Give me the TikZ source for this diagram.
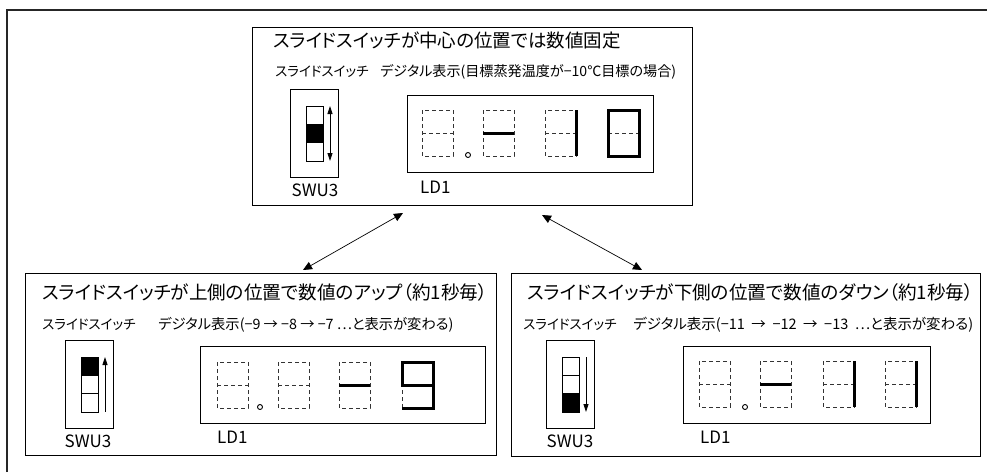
\documentclass[tikz,border=0pt]{standalone}
\usepackage{fontspec}
\setmainfont{Noto Sans CJK JP}[RawFeature=+palt]
\usetikzlibrary{arrows.meta}

\newcommand{\segdigit}[2]{%
  \begin{scope}[shift={#1}]
    \coordinate (tl) at (0,0);  \coordinate (tr) at (31,0);
    \coordinate (ml) at (0,23); \coordinate (mr) at (31,23);
    \coordinate (bl) at (0,46); \coordinate (br) at (31,46);
    \draw[segoff] (tl) rectangle (br) (ml) -- (mr);
    \if\relax\detokenize{#2}\relax\else\draw[segon] #2;\fi
  \end{scope}}

\newcommand{\slideswitch}[3]{%
  \begin{scope}[shift={#1}]
    \draw[swline] (0,0) rectangle (48,88);
    \fill (16,{17+55/3*#2}) rectangle (33,{17+55/3*(#2+1)});
    \draw[swline] (16,17) rectangle (33,72)
      (16,{17+55/3}) -- (33,{17+55/3}) (16,{17+110/3}) -- (33,{17+110/3});
    \draw[#3] (40,17) -- (40,72);
  \end{scope}}

\newcommand{\gap}{\hspace{0.45em}}

\begin{document}
\begin{tikzpicture}[x=1pt, y=-1pt,
    frame/.style={line width=2pt, black!85},
    panel/.style={draw, line width=1pt, inner sep=0pt},
    ttl/.style={anchor=west, inner sep=0pt, font=\fontsize{18.6}{20}\selectfont},
    sub/.style={anchor=west, inner sep=0pt, font=\fontsize{13.5}{15}\selectfont},
    tag/.style={anchor=west, inner sep=0pt, font=\fontsize{17}{19}\selectfont},
    swline/.style={line width=0.9pt},
    segoff/.style={line width=0.6pt, black!80, dash pattern=on 4pt off 3pt},
    segon/.style={line width=3pt},
    swboth/.style={line width=0.8pt, {Triangle[length=8pt,width=5pt]}-{Triangle[length=8pt,width=5pt]}},
    swup/.style={line width=0.8pt, {Triangle[length=8pt,width=5pt]}-},
    swdown/.style={line width=0.8pt, -{Triangle[length=8pt,width=5pt]}},
    arr/.style={line width=0.7pt, {Triangle[length=9pt,width=8pt]}-{Triangle[length=9pt,width=8pt]}},
]
\useasboundingbox (0,0) rectangle (987,472);
\draw[frame] (7,472) -- (7,10) -- (987,10);

\node[panel, minimum width=440pt, minimum height=178pt] (pmid) at (472,116) {};
\node[panel, minimum width=471pt, minimum height=182pt] (pup) at (260.5,364) {};
\node[panel, minimum width=469pt, minimum height=183pt] (pdown) at (745.5,364.5) {};

\coordinate (ml) at (403,213);
\coordinate (ul) at (303,270);
\coordinate (mr) at (542,215);
\coordinate (dr) at (642,270);
\draw[arr] (ul) -- (ml);
\draw[arr] (mr) -- (dr);

\node[ttl, font=\fontsize{18.5}{20}\selectfont] (tmid) at (273,40) {スライドスイッチが中心の位置では数値固定};
\node[sub] (smid) at (275,72) {スライドスイッチ};
\node[sub, font=\fontsize{14.1}{15}\selectfont] (dmid) at (380,72) {デジタル表示(目標蒸発温度が−10℃目標の場合)};
\slideswitch{(290,89)}{1}{swboth}
\node[tag, anchor=center] (wmid) at (315,190) {SWU3};
\draw[swline] (407,95) rectangle (653,172);
\node[tag] (lmid) at (420,187) {LD1};
\segdigit{(422,110)}{}
\draw[swline] (468,155) circle (2.5pt);
\segdigit{(483,110)}{(ml) -- (mr)}
\segdigit{(545,110)}{(tr) -- (br)}
\segdigit{(608,110)}{(tl) -- (tr) -- (br) -- (bl) -- cycle}

\node[ttl] (tup) at (42,292) {スライドスイッチが上側の位置で数値のアップ（約1秒毎）};
\node[sub] (sup1) at (42,325) {スライドスイッチ};
\node[sub, font=\fontsize{14.3}{15}\selectfont] (dup) at (158,325) {デジタル表示(−9 → −8 → −7 …と表示が変わる)};
\slideswitch{(65,340)}{0}{swup}
\node[tag, anchor=center] (wup) at (88,441) {SWU3};
\draw[swline] (200,346) rectangle (485,423);
\node[tag] (lup) at (217,437) {LD1};
\segdigit{(217,362)}{}
\draw[swline] (260,407) circle (2.5pt);
\segdigit{(278,362)}{}
\segdigit{(339,362)}{(ml) -- (mr)}
\segdigit{(402,362)}{(bl) -- (br) -- (tr) -- (tl) -- (ml) -- (mr)}

\node[ttl] (tdown) at (527,292) {スライドスイッチが下側の位置で数値のダウン（約1秒毎）};
\node[sub] (sdown) at (523,325) {スライドスイッチ};
\node[sub, font=\fontsize{14.5}{15}\selectfont] (ddown) at (633,325) {デジタル表示(−11\gap→\gap−12\gap→\gap−13\gap…と表示が変わる)};
\slideswitch{(546,340)}{2}{swdown}
\node[tag, anchor=center] (wdown) at (570,441) {SWU3};
\draw[swline] (683,346) rectangle (930,423);
\node[tag] (ldown) at (700,437) {LD1};
\segdigit{(699,361)}{}
\draw[swline] (745,407) circle (2.5pt);
\segdigit{(760,361)}{(ml) -- (mr)}
\segdigit{(823,361)}{(tr) -- (br)}
\segdigit{(885,361)}{(tr) -- (br)}
\end{tikzpicture}
\end{document}
